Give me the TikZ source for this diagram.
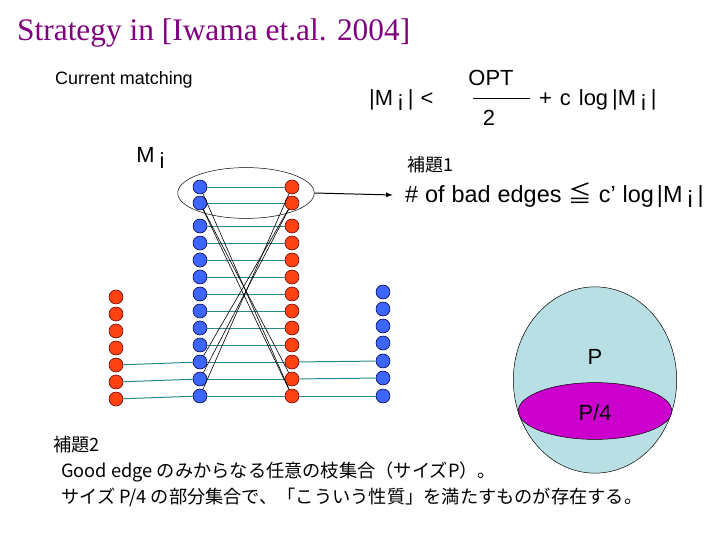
\documentclass[tikz,border=0pt]{standalone}
\usepackage{fontspec}
\setmainfont{Liberation Serif}
\setsansfont{Liberation Sans}
\newfontfamily\jpfont{Noto Sans CJK JP}
\usepackage{xcolor}
\usepackage{tikz}
\usetikzlibrary{shapes.geometric, arrows.meta, positioning}
\definecolor{dotblue}{HTML}{3D66FF}
\definecolor{dotred}{HTML}{FF4212}
\definecolor{edgeteal}{HTML}{2A8A8A}
\definecolor{cloudblue}{HTML}{B8DFE4}
\definecolor{subsetpink}{HTML}{CC00CC}
\definecolor{titlepurple}{HTML}{800080}
\newcommand{\Mi}{M\kern5pt\raisebox{-0.45ex}{i}\kern5pt}
\newcommand{\widespaces}{\spaceskip=7pt\relax}
\tikzset{
  vblue/.style={circle, draw=black!70!blue, fill=dotblue, inner sep=0pt, minimum size=14pt, line width=0.6pt},
  vred/.style={circle, draw=black!60!red, fill=dotred, inner sep=0pt, minimum size=14pt, line width=0.6pt},
  goodedge/.style={draw=edgeteal, line width=1pt},
  badedge/.style={draw=black, line width=0.6pt},
  sftext/.style={font=\sffamily\fontsize{22}{26}\selectfont, inner sep=0pt},
  jptext/.style={font=\jpfont\fontsize{18.3}{22}\selectfont, inner sep=0pt, anchor=west},
  setshape/.style={ellipse, draw=black, line width=0.5pt, inner sep=0pt},
}

\begin{document}
\begin{tikzpicture}[x=1bp, y=-1bp]
  \useasboundingbox[fill=white] (0,0) rectangle (720,540);

  \node[anchor=west, inner sep=0pt, text=titlepurple, font=\fontsize{31.5}{36}\selectfont] (title) at (17,33) {Strategy in [Iwama et.al. 2004]};
  \node[anchor=west, sftext, font=\sffamily\fontsize{18}{22}\selectfont] (current) at (55,80) {Current matching};

  \node[sftext, anchor=west] (lhs) at (369,100) {|\Mi|\kern7pt<};
  \node[sftext] (num) at (491,78) {OPT};
  \node[sftext] (den) at (489,118) {2};
  \draw[line width=0.6pt] (473,98) -- (530,98);
  \node[sftext, anchor=west] (rhs) at (539,100) {+\kern8pt c\kern8pt log\kern4pt|\Mi|};

  \node[sftext, font=\sffamily\fontsize{22}{26}\selectfont] (mlabel) at (153,158) {\Mi};

  \foreach \k/\y in {1/187,2/203,3/226,4/243,5/260,6/277,7/294,8/311,9/328,10/345,11/362,12/379,13/396} {
    \node[vblue] (b\k) at (200,\y) {};
    \node[vred] (r\k) at (292,\y) {};
    \draw[goodedge] (b\k) -- (r\k);
  }
  \foreach \k/\y in {1/297,2/314,3/331,4/348,5/365,6/382,7/399}
    \node[vred] (lr\k) at (116,\y) {};
  \foreach \k/\y in {1/292,2/309,3/326,4/343,5/361,6/378,7/396}
    \node[vblue] (rb\k) at (383,\y) {};

  \draw[goodedge] (lr5) -- (b11);
  \draw[goodedge] (lr6) -- (b12);
  \draw[goodedge] (lr7) -- (b13);
  \draw[goodedge] (r11) -- (rb5);
  \draw[goodedge] (r12) -- (rb6);
  \draw[goodedge] (r13) -- (rb7);

  \draw[badedge] (b1) -- (r13);
  \draw[badedge] (b2) -- (r12);
  \draw[badedge] (b2) -- (r13);
  \draw[badedge] (r1) -- (b13);
  \draw[badedge] (r2) -- (b12);
  \draw[badedge] (r2) -- (b11);

  \node[setshape, minimum width=137pt, minimum height=51pt] (mset) at (246,193) {};
  \coordinate (lemonetip) at (393,195);
  \draw[-{Latex[length=7pt, width=5pt]}, line width=1pt] (mset.east) -- (lemonetip);

  \node[jptext, font=\jpfont\fontsize{18}{22}\selectfont] (lemone) at (407,165) {補題1};
  \node[sftext, anchor=west, font=\sffamily\fontsize{23.5}{27}\selectfont\widespaces] (badcount) at (405,195) {\# of bad edges {\jpfont ≦} c’ log\kern3pt|\Mi|};

  \node[setshape, fill=cloudblue, minimum width=164pt, minimum height=187pt] (pset) at (595,380) {};
  \node[sftext] (plabel) at (595,357) {P};
  \node[setshape, fill=subsetpink, minimum width=154pt, minimum height=57pt] (quarter) at (595,411) {};
  \node[sftext] (qlabel) at (595,413) {P/4};

  \node[jptext] (lemtwo) at (53,445) {補題2};
  \node[jptext] (lemtwoa) at (61,472) {Good edge のみからなる任意の枝集合（サイズP）。};
  \node[jptext] (lemtwob) at (61,497) {サイズ P/4 の部分集合で、「こういう性質」を満たすものが存在する。};
\end{tikzpicture}
\end{document}
